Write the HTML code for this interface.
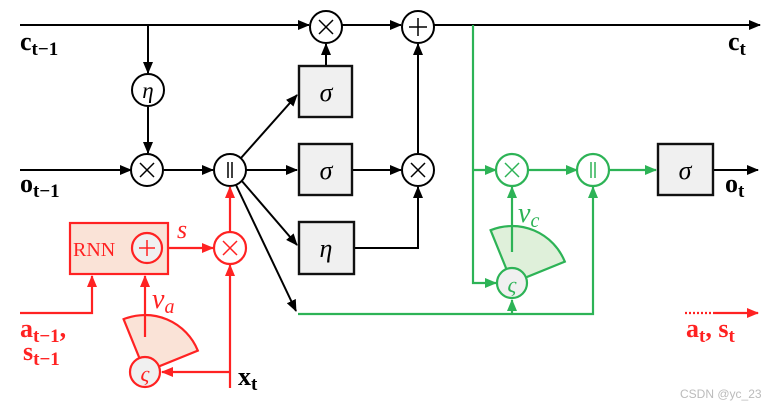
<!DOCTYPE html>
<html><head><meta charset="utf-8"><style>
body{margin:0;background:#fff}
svg{display:block}
text{font-family:"Liberation Serif","DejaVu Serif",serif}
</style></head><body>
<svg width="779" height="408" viewBox="0 0 779 408" xmlns="http://www.w3.org/2000/svg">
<defs>
<marker id="ab" markerWidth="12" markerHeight="10" refX="11" refY="5" orient="auto" markerUnits="userSpaceOnUse"><path d="M0,0 L12,5 L0,10Z" fill="#000"/></marker>
<marker id="ar" markerWidth="12" markerHeight="10" refX="11" refY="5" orient="auto" markerUnits="userSpaceOnUse"><path d="M0,0 L12,5 L0,10Z" fill="#f22"/></marker>
<marker id="ag" markerWidth="12" markerHeight="10" refX="11" refY="5" orient="auto" markerUnits="userSpaceOnUse"><path d="M0,0 L12,5 L0,10Z" fill="#2db356"/></marker>
</defs>
<g stroke="#000" stroke-width="2" fill="none">
<line x1="20" y1="25" x2="309" y2="25" marker-end="url(#ab)"/>
<line x1="342" y1="25" x2="401" y2="25" marker-end="url(#ab)"/>
<line x1="434" y1="25" x2="760" y2="25" marker-end="url(#ab)"/>
<line x1="148" y1="25" x2="148" y2="73" marker-end="url(#ab)"/>
<line x1="148" y1="107" x2="148" y2="153" marker-end="url(#ab)"/>
<line x1="20" y1="170" x2="131" y2="170" marker-end="url(#ab)"/>
<line x1="164" y1="170" x2="213" y2="170" marker-end="url(#ab)"/>
<line x1="246" y1="170" x2="297" y2="170" marker-end="url(#ab)"/>
<line x1="241" y1="158" x2="297" y2="95" marker-end="url(#ab)"/>
<line x1="241" y1="180" x2="297" y2="245" marker-end="url(#ab)"/>
<line x1="236" y1="185" x2="296" y2="311" marker-end="url(#ab)"/>
<line x1="326" y1="66" x2="326" y2="44" marker-end="url(#ab)"/>
<line x1="353" y1="170" x2="401" y2="170" marker-end="url(#ab)"/>
<polyline points="354,248 418,248 418,187" marker-end="url(#ab)"/>
<line x1="418" y1="153" x2="418" y2="44" marker-end="url(#ab)"/>
<line x1="713" y1="170" x2="758" y2="170" marker-end="url(#ab)"/>
</g>
<g stroke="#111" stroke-width="2.4" fill="#f0f0f0">
<rect x="299" y="66" width="53" height="51"/>
<rect x="299" y="144" width="53" height="51"/>
<rect x="299" y="222" width="55" height="52"/>
<rect x="658" y="144" width="55" height="51"/>
</g>
<g stroke="#000" stroke-width="2" fill="#fff">
<circle cx="326" cy="27" r="16"/><circle cx="418" cy="27" r="16"/>
<circle cx="148" cy="90" r="16"/><circle cx="147" cy="170" r="16"/>
<circle cx="230" cy="170" r="16"/><circle cx="418" cy="170" r="16"/>
</g>
<g font-size="26" font-style="italic" text-anchor="middle">
<text x="326" y="101">σ</text><text x="326" y="179">σ</text><text x="326" y="257">η</text><text x="685" y="179">σ</text>
<text x="148" y="98" font-size="23">η</text>
</g>
<g stroke="#000" stroke-width="1.5">
<line x1="319" y1="20" x2="333" y2="34"/><line x1="333" y1="20" x2="319" y2="34"/>
<line x1="140" y1="163" x2="154" y2="177"/><line x1="154" y1="163" x2="140" y2="177"/>
<line x1="411" y1="163" x2="425" y2="177"/><line x1="425" y1="163" x2="411" y2="177"/>
<line x1="418" y1="18" x2="418" y2="36"/><line x1="409" y1="27" x2="427" y2="27"/>
<line x1="228" y1="162" x2="228" y2="178"/><line x1="232" y1="162" x2="232" y2="178"/>
</g>
<g stroke="#2db356" stroke-width="2.2" fill="none">
<path d="M506.8,270 L490.6,230.2 A57 57 0 0 1 564.8,261.6 L525,277.8 Z" fill="#dff0da"/>
<polyline points="473,25 473,283 496,283" marker-end="url(#ag)"/>
<line x1="473" y1="170" x2="496" y2="170" marker-end="url(#ag)"/>
<line x1="528" y1="170" x2="577" y2="170" marker-end="url(#ag)"/>
<line x1="609" y1="170" x2="656" y2="170" marker-end="url(#ag)"/>
<line x1="512" y1="252" x2="512" y2="187" marker-end="url(#ag)"/>
<polyline points="298,314 593,314 593,187" marker-end="url(#ag)"/>
<line x1="512" y1="314" x2="512" y2="300" marker-end="url(#ag)"/>
<circle cx="512" cy="170" r="16" fill="#fff"/><circle cx="593" cy="170" r="16" fill="#fff"/>
<circle cx="512" cy="283" r="15" fill="#f0f0f0"/>
<line x1="505" y1="163" x2="519" y2="177" stroke-width="1.5"/><line x1="519" y1="163" x2="505" y2="177" stroke-width="1.5"/>
<line x1="591" y1="162" x2="591" y2="178" stroke-width="1.5"/><line x1="595" y1="162" x2="595" y2="178" stroke-width="1.5"/>
</g>
<text x="512" y="292" font-size="22" font-style="italic" fill="#2db356" text-anchor="middle">ς</text>
<text x="518" y="222" font-size="28" font-style="italic" fill="#2db356">ν<tspan font-size="20" dy="5">c</tspan></text>
<g stroke="#f22" stroke-width="2.2" fill="none">
<path d="M139.8,359 L123.6,319.2 A57 57 0 0 1 197.8,350.6 L158,366.8 Z" fill="#fae3d7"/>
<rect x="70" y="223" width="98" height="51" fill="#fae3d7"/>
<polyline points="20,313 92,313 92,276" marker-end="url(#ar)"/>
<line x1="145" y1="337" x2="145" y2="276" marker-end="url(#ar)"/>
<line x1="169" y1="248" x2="213" y2="248" marker-end="url(#ar)"/>
<line x1="230" y1="232" x2="230" y2="187" marker-end="url(#ar)"/>
<line x1="230" y1="388" x2="230" y2="265" marker-end="url(#ar)"/>
<line x1="230" y1="372" x2="162" y2="372" marker-end="url(#ar)"/>
<circle cx="147" cy="248" r="15" fill="#f0f0f0"/>
<circle cx="230" cy="248" r="16" fill="#fff"/>
<circle cx="145" cy="372" r="15" fill="#f0f0f0"/>
<line x1="147" y1="240" x2="147" y2="256" stroke-width="1.5"/><line x1="139" y1="248" x2="155" y2="248" stroke-width="1.5"/>
<line x1="223" y1="241" x2="237" y2="255" stroke-width="1.5"/><line x1="237" y1="241" x2="223" y2="255" stroke-width="1.5"/>
<line x1="685" y1="313" x2="714" y2="313" stroke-dasharray="2,2"/>
<line x1="714" y1="313" x2="758" y2="313" marker-end="url(#ar)"/>
</g>
<g fill="#f22">
<text x="73" y="256" font-size="20">RNN</text>
<text x="177" y="238" font-size="26" font-style="italic">s</text>
<text x="152" y="308" font-size="28" font-style="italic">ν<tspan font-size="20" dy="5">a</tspan></text>
<text x="145" y="381" font-size="22" font-style="italic" text-anchor="middle">ς</text>
<text x="20" y="337" font-size="26" font-weight="bold">a<tspan font-size="19" dy="5">t−1</tspan><tspan dy="-5">,</tspan></text>
<text x="23" y="360" font-size="26" font-weight="bold">s<tspan font-size="19" dy="5">t−1</tspan></text>
<text x="686" y="337" font-size="26" font-weight="bold">a<tspan font-size="19" dy="5">t</tspan><tspan dy="-5">, s</tspan><tspan font-size="19" dy="5">t</tspan></text>
</g>
<g fill="#000" font-weight="bold" font-size="26">
<text x="20" y="50">c<tspan font-size="19" dy="5">t−1</tspan></text>
<text x="20" y="192">o<tspan font-size="19" dy="5">t−1</tspan></text>
<text x="728" y="50">c<tspan font-size="19" dy="5">t</tspan></text>
<text x="725" y="192">o<tspan font-size="19" dy="5">t</tspan></text>
<text x="238" y="385">x<tspan font-size="19" dy="5">t</tspan></text>
</g>
<text x="680" y="398" font-size="12" fill="#bbb" style="font-family:'Liberation Sans',sans-serif">CSDN @yc_23</text>
</svg>
</body></html>
